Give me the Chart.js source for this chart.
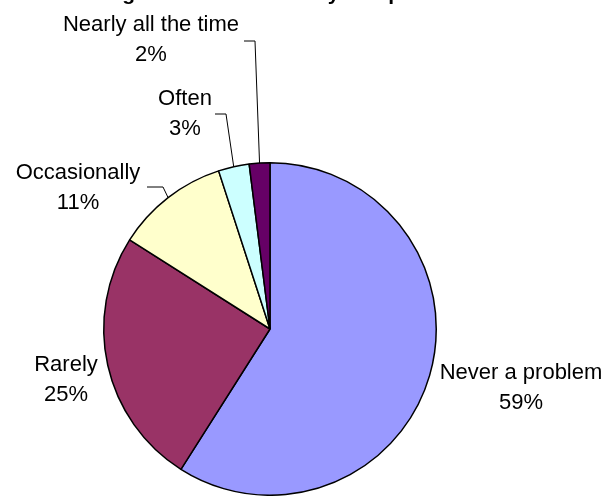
<!DOCTYPE html>
<html>
<head>
<meta charset="utf-8">
<script src="https://cdn.jsdelivr.net/npm/chart.js@4"></script>
<style>
    html, body { margin: 0; padding: 0; background: #fff; }
    #chart01 { display: block; }
</style>
</head>
<body>
<canvas id="chart01" width="607" height="496"></canvas>
<script>
const categories = ['Never a problem', 'Rarely', 'Occasionally', 'Often', 'Nearly all the time'];
const percents = [59, 25, 11, 3, 2];
const sliceColors = ['#9999FF', '#993366', '#FFFFCC', '#CCFFFF', '#660066'];
const chartTitle = 'How often does finding information cause you a problem at work?';

// where each label sits (text centre x, first baseline), and the elbow of its leader line if any
const labelLayout = [
    { x: 521, y: 379 },
    { x: 66, y: 371 },
    { x: 78, y: 179, leader: [[147, 187], [163, 187]] },
    { x: 185, y: 105, leader: [[215, 114], [226, 114]] },
    { x: 151, y: 31, leader: [[244, 41], [255, 41]] }
];

const ctx01 = document.getElementById('chart01');

// title is mostly cut off by the top edge, only the glyph bottoms show
const cutTitle = {
    id: 'cutTitle',
    afterDraw(chart) {
        const c = chart.ctx;
        c.save();
        c.font = 'bold 21px "Liberation Sans", Arial, sans-serif';
        c.fillStyle = '#000';
        c.textAlign = 'left';
        c.textBaseline = 'alphabetic';
        c.fillText(chartTitle, -97, -0.5);
        c.restore();
    }
};

const pieLabels = {
    id: 'pieLabels',
    afterDraw(chart) {
        const c = chart.ctx;
        const arcs = chart.getDatasetMeta(0).data;
        c.save();
        c.font = '22px "Liberation Sans", Arial, sans-serif';
        c.textAlign = 'center';
        c.textBaseline = 'alphabetic';
        arcs.forEach((arc, i) => {
            const pos = labelLayout[i];
            if (pos.leader) {
                const p = arc.getProps(['x', 'y', 'startAngle', 'endAngle', 'outerRadius'], true);
                const mid = (p.startAngle + p.endAngle) / 2;
                const ex = p.x + Math.cos(mid) * p.outerRadius;
                const ey = p.y + Math.sin(mid) * p.outerRadius;
                c.strokeStyle = '#000';
                c.lineWidth = 1;
                c.beginPath();
                c.moveTo(pos.leader[0][0], pos.leader[0][1]);
                c.lineTo(pos.leader[1][0], pos.leader[1][1]);
                c.lineTo(ex, ey);
                c.stroke();
            }
            c.fillStyle = '#000';
            c.fillText(categories[i], pos.x, pos.y);
            c.fillText(percents[i] + '%', pos.x, pos.y + 29.5);
        });
        c.restore();
    }
};

const chart = new Chart(ctx01, {
    type: 'pie',
    data: {
        labels: categories,
        datasets: [{
            data: percents,
            backgroundColor: sliceColors,
            borderColor: '#000',
            borderWidth: 1.5
        }]
    },
    options: {
        responsive: false,
        animation: false,
        layout: {
            padding: { left: 103, right: 170, top: 162, bottom: 0 }
        },
        plugins: {
            legend: { display: false },
            tooltip: { enabled: false },
            title: { display: false }
        }
    },
    plugins: [pieLabels, cutTitle]
});
</script>
</body>
</html>
